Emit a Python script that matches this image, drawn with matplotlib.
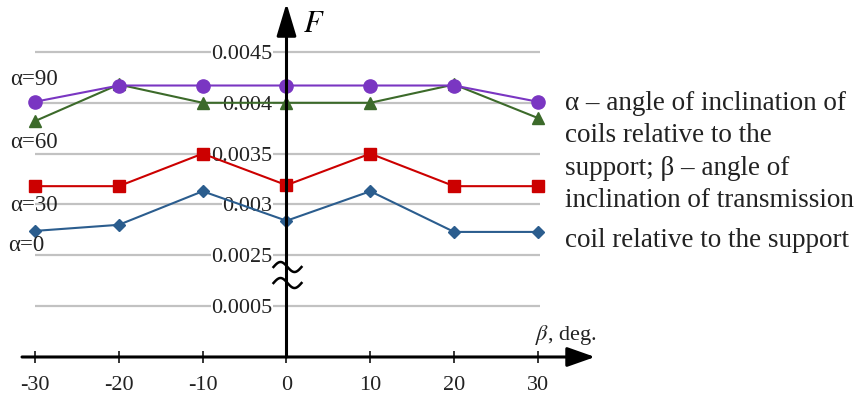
import numpy as np
import matplotlib
matplotlib.use("Agg")
import matplotlib.pyplot as plt
import matplotlib.transforms as mtransforms

plt.rcParams['font.family'] = ['Liberation Serif', 'DejaVu Serif']
plt.rcParams['mathtext.fontset'] = 'stix'

# ---------------- data ----------------
beta = [-30, -20, -10, 0, 10, 20, 30]
alpha0 = [0.00274, 0.00280, 0.00313, 0.00284, 0.00313, 0.00273, 0.00273]
alpha30 = [0.00318, 0.00318, 0.00350, 0.00319, 0.00350, 0.00318, 0.00318]
alpha60 = [0.00382, 0.00418, 0.00400, 0.00400, 0.00400, 0.00418, 0.00385]
alpha90 = [0.00401, 0.00417, 0.00417, 0.00417, 0.00417, 0.00417, 0.00401]
series_labels = ['α=0', 'α=30', 'α=60', 'α=90']
ytick_values = [0.0005, 0.0025, 0.003, 0.0035, 0.004, 0.0045]
ytick_labels = ['0.0005', '0.0025', '0.003', '0.0035', '0.004', '0.0045']
xtick_labels = ['-30', '-20', '-10', '0', '10', '20', '30']
note_lines = ['α – angle of inclination of', 'coils relative to the',
              'support; β – angle of', 'inclination of transmission',
              'coil relative to the support']

# broken y scale: 0..0.0005 normal, 0.0005..0.0025 compressed, >=0.0025 shifted
def fwd(v):
    v = np.asarray(v, dtype=float)
    return np.where(v <= 0.0005, v,
                    np.where(v >= 0.0025, v - 0.0015, 0.0005 + (v - 0.0005) * 0.25))

def inv(u):
    u = np.asarray(u, dtype=float)
    return np.where(u <= 0.0005, u,
                    np.where(u >= 0.001, u + 0.0015, 0.0005 + (u - 0.0005) * 4.0))

fig = plt.figure(figsize=(8.6, 3.94), dpi=100)
ax = fig.add_axes([0, 0, 1, 1])
ax.set_yscale('function', functions=(fwd, inv))
ax.set_xlim(-34.175, 68.41)
ax.set_ylim(float(inv(-0.000364)), float(inv(0.003511)))
ax.set_facecolor('none')
for s in ax.spines.values():
    s.set_visible(False)
ax.spines['left'].set_position(('data', 0))
ax.spines['bottom'].set_position(('data', 0))

# gridlines
ax.hlines(ytick_values, -30, 30.2, colors='#c2c2c2', lw=1.6, zorder=1)

# ticks
ax.set_xticks(beta)
ax.set_xticklabels(xtick_labels, fontsize=16, color='#222222')
ax.tick_params(axis='x', direction='inout', length=9, width=1.1, pad=9, colors='black')
for lab in ax.get_xticklabels():
    lab.set_color('#222222')
ax.set_yticks(ytick_values)
ax.set_yticklabels(ytick_labels, fontsize=16, color='#222222')
ax.tick_params(axis='y', length=0, pad=10)
for lab in ax.get_yticklabels():
    lab.set_bbox(dict(facecolor='white', edgecolor='none', pad=0.5))
ax.yaxis.set_minor_locator(matplotlib.ticker.NullLocator())
ax.xaxis.set_minor_locator(matplotlib.ticker.NullLocator())

# series
colors = ['#2b5d8e', '#cc0000', '#3c6a2a', '#7a36c2']
markers = ['D', 's', '^', 'o']
msizes = [6, 8.5, 9, 9.5]
for vals, c, m, ms in zip([alpha0, alpha30, alpha60, alpha90], colors, markers, msizes):
    ax.plot(beta, vals, color=c, lw=1.5, marker=m, ms=ms, mec=c, mfc=c, zorder=3)

# series labels at left
label_pos_y = [0.00260, 0.002985, 0.003605, 0.004225]
label_pos_x = [-33.2, -33.0, -33.0, -33.0]
for t, lx, ly in zip(series_labels, label_pos_x, label_pos_y):
    ax.text(lx, ly, t, fontsize=16.5, ha='left', va='center', color='#222222')

# axes arrows
ax.annotate('', xy=(0, float(inv(0.003480))), xytext=(0, 0),
            arrowprops=dict(arrowstyle='-|>,head_length=1.0,head_width=0.3',
                            mutation_scale=20, lw=2.2, color='black',
                            shrinkA=0, shrinkB=0), zorder=5)
ax.annotate('', xy=(36.8, 0), xytext=(-31.55, 0),
            arrowprops=dict(arrowstyle='-|>,head_length=0.85,head_width=0.3',
                            mutation_scale=20, lw=2.2, color='black',
                            shrinkA=0, shrinkB=0), zorder=5)

# axis labels
ax.text(29.7, float(inv(0.000218)), r'$\beta$, deg.', fontsize=16, ha='left', va='center',
        color='#222222')
ax.text(2.0, float(inv(0.003270)), r'$F$', fontsize=22, ha='left', va='center')

# break symbol (two waves) on y axis
fig.canvas.draw()
for yd in [0.00204, 0.00141]:
    px, py = ax.transData.transform((0, yd))
    t = np.linspace(0, 1, 60)
    wx = -13 + 28 * t
    wy = 5 * np.sin(2 * np.pi * t)
    ln = matplotlib.lines.Line2D(wx, wy, color='black', lw=1.8,
                                 transform=mtransforms.Affine2D().translate(px, py))
    ax.add_artist(ln)

# explanatory note on right
baselines = [110, 142, 175, 207, 247]
for line, b in zip(note_lines, baselines):
    fig.text(565 / 860, 1 - b / 394, line, fontsize=19.5, ha='left', va='baseline', color='#222222')

fig.savefig('out.png', dpi=100, facecolor='white')
